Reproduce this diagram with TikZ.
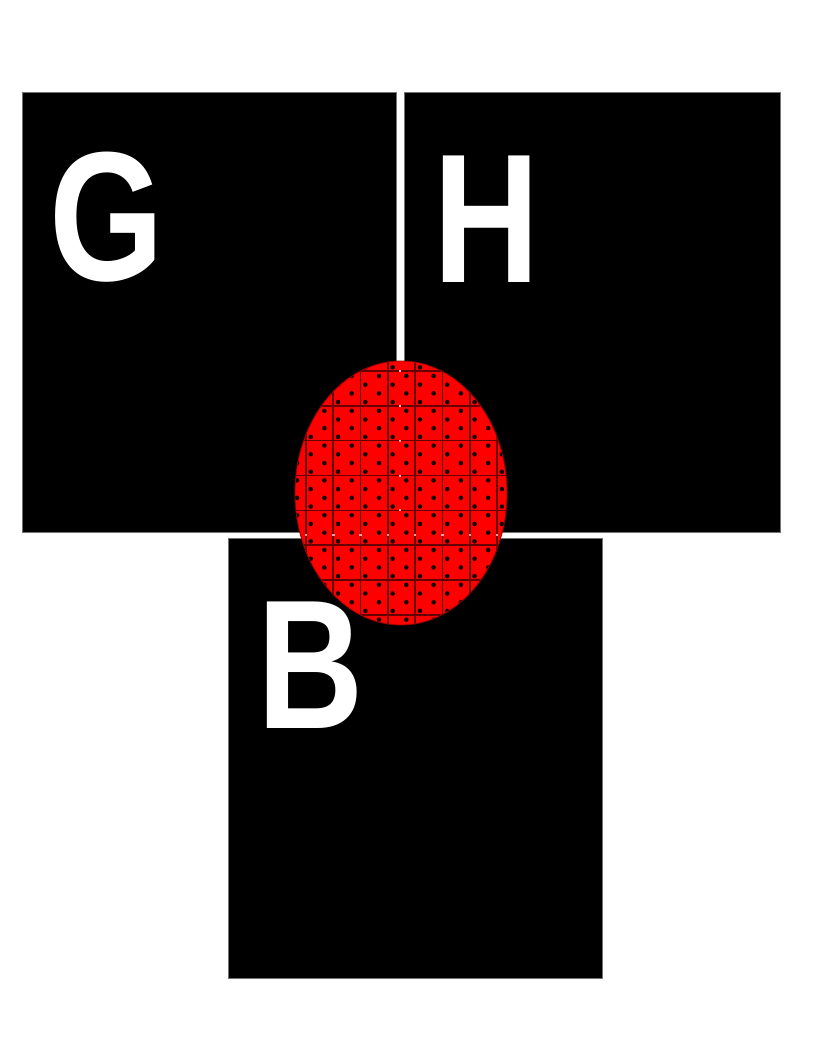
\documentclass[tikz,border=0pt]{standalone}
\usepackage{fontspec}
\setmainfont{Liberation Sans}
\begin{document}
\begin{tikzpicture}[x=0.75pt,y=-0.75pt]
\tikzset{
  panel/.style={fill=black,draw=black!55,line width=0.6pt},
  letter/.style={text=white,font=\fontsize{138}{138}\selectfont\bfseries,xscale=0.8,inner sep=0pt},
  gridline/.style={draw=black!60!red,line width=1.3pt},
  gapmark/.style={draw=red!35!white,line width=1.8pt}
}
\useasboundingbox[fill=white] (0,0) rectangle (816,1056);
% panels
\draw[panel] (22,92) rectangle (396,532);
\draw[panel] (404,92) rectangle (780,532);
\draw[panel] (228,538) rectangle (602,978);
% letters
\node[letter] (g) at (107,217) {G};
\node[letter] (h) at (487,219) {H};
\node[letter] (b) at (311,665) {B};
% patterned ellipse
\begin{scope}
  \clip (401,493) ellipse [x radius=106, y radius=132];
  \fill[red] (290,355) rectangle (515,630);
  \foreach \k in {-2,...,7} {
    \draw[gridline] ({333.3+27.3*\k},355) -- ({333.3+27.3*\k},630);
  }
  \foreach \k in {-2,...,7} {
    \draw[gridline] (290,{405.7+34.9*\k}) -- (515,{405.7+34.9*\k});
  }
  \foreach \j in {-2,...,30} {
    \pgfmathsetmacro{\off}{mod(\j+20,2)*13.65}
    \foreach \k in {-4,...,6} {
      \fill[black!90!red] ({379+\off+27.3*\k},{376+8.7*\j}) circle [radius=2.3];
    }
  }
  % white gaps showing through
  \foreach \k in {0,...,4} {
    \draw[gapmark] (400,{370.8+34.9*\k-1}) -- (400,{370.8+34.9*\k+1});
  }
  \foreach \k in {-1,...,6} {
    \draw[gapmark] ({333.3+27.3*\k-1.2},535) -- ({333.3+27.3*\k+1.2},535);
  }
\end{scope}
\draw[draw=black!40!red,line width=0.6pt] (401,493) ellipse [x radius=106, y radius=132];
\end{tikzpicture}
\end{document}
